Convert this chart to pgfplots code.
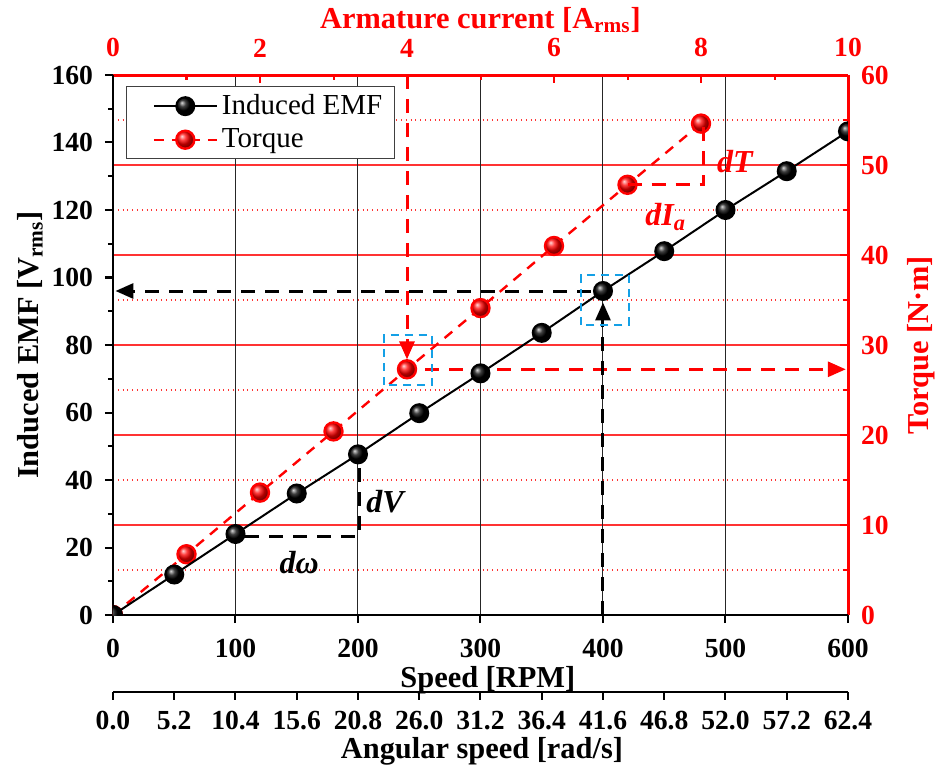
\documentclass[border=0pt]{standalone}
\usepackage{pgfplots}
\usepackage{pgfplotstable}
\pgfplotsset{compat=1.18}
\usepackage{fontspec}
\setmainfont{Liberation Serif}
\usetikzlibrary{arrows.meta}

\definecolor{boxblue}{RGB}{20,160,230}

\newcommand{\tickfont}{\fontsize{13.8}{16}\selectfont\bfseries}
\newcommand{\labfont}{\fontsize{15.2}{18}\selectfont\bfseries}
\newcommand{\notefont}{\fontsize{16}{18}\selectfont\bfseries\itshape}

% Induced EMF versus speed
\pgfplotstableread{
rpm emf
0   0
50  12
100 24
150 36
200 47.6
250 59.8
300 71.6
350 83.6
400 96
450 107.8
500 120
550 131.5
600 143.3
}\emfdata

% Torque versus armature current
\pgfplotstableread{
ia torque
0 0
1 6.75
2 13.6
3 20.4
4 27.3
5 34.1
6 41.0
7 47.8
8 54.6
}\torquedata

\tikzset{
  annot/.style={line width=1.5pt, dash pattern=on 7pt off 5pt},
  tip/.style={-{Triangle[length=9pt,width=7.5pt]}},
  selbox/.style={boxblue, line width=1pt, dash pattern=on 4pt off 3pt},
}

\begin{document}
\begin{tikzpicture}
\pgfplotsset{
  common/.style={
    scale only axis, width=367.5pt, height=270pt,
    set layers,
    clip marker paths=true,
    /pgf/number format/assume math mode=true,
    ticklabel style={font=\tickfont},
    label style={font=\labfont, inner sep=0pt},
    major tick length=4pt, minor tick length=2.5pt,
  },
}
% ---- torque axis (top: armature current, right: torque)
\begin{axis}[common,
  xmin=0, xmax=10, ymin=0, ymax=60,
  axis x line*=top, axis y line*=right,
  axis line style={red, line width=1.5pt},
  tick align=inside,
  every tick/.style={red, line width=1pt},
  xtick={0,2,...,10}, minor xtick={1,3,...,9},
  ytick={0,10,...,60}, minor ytick={5,15,...,55},
  ymajorgrids, yminorgrids,
  major grid style={red!80, line width=0.6pt},
  minor grid style={red!80, dotted, line width=0.6pt},
  ticklabel style={red},
  xticklabel style={inner ysep=1pt, yshift=7.8pt},
  yticklabel style={xshift=3pt},
  xlabel={Armature current [A\textsubscript{rms}]},
  ylabel={Torque [N·m]},
  label style={red},
  xlabel style={at={(axis description cs:0.5,1.102)}, anchor=center},
  ylabel style={at={(axis description cs:1.1,0.5)}, anchor=center},
]
\addplot[red, line width=1.2pt, dash pattern=on 5pt off 4pt,
  mark=ball, mark size=4.5pt, mark options={solid, ball color=red}]
  table[x=ia, y=torque] {\torquedata};

% current 4 A -> torque
\draw[red, annot, tip] (axis cs:4,60) -- (axis cs:4,28.4);
\draw[red, annot, tip] (axis cs:4.25,27.3) -- (axis cs:9.97,27.3);
\draw[selbox] (axis cs:3.69,25.6) rectangle (axis cs:4.34,31.1);

% slope triangle dT / dIa
\draw[red, annot] (axis cs:7,47.8) -- (axis cs:8.03,47.8) -- (axis cs:8.03,54.6);
\node[red, font=\notefont] at (axis cs:8.46,50.4) {dT};
\node[red, font=\notefont] at (axis cs:7.52,44.2) {dI\textsubscript{a}};
\end{axis}

% ---- EMF axis (bottom: speed, left: induced EMF)
\begin{axis}[common,
  xmin=0, xmax=600, ymin=0, ymax=160,
  axis x line*=bottom, axis y line*=left,
  axis line style={black, line width=1pt},
  tick align=outside,
  every tick/.style={black, line width=1pt},
  xtick={0,100,...,600},
  ytick={0,20,...,160}, minor ytick={10,30,...,150},
  xticklabel style={inner ysep=1pt, yshift=-7pt},
  yticklabel style={xshift=-2.5pt},
  xmajorgrids,
  major grid style={black!85, line width=0.5pt},
  xlabel={Speed [RPM]},
  ylabel={Induced EMF [V\textsubscript{rms}]},
  xlabel style={at={(axis description cs:0.51,-0.121)}, anchor=center},
  ylabel style={at={(axis description cs:-0.113,0.5)}, anchor=center},
  legend style={at={(axis description cs:0,1)}, anchor=north west,
    xshift=6.5pt, yshift=-5.5pt, draw=black!75, line width=0.6pt,
    font=\fontsize{14.5}{17}\selectfont, row sep=1.5pt,
    inner xsep=4pt, inner ysep=2pt, cells={anchor=west}},
  legend image code/.code={%
    \path (-9pt,0pt);
    \draw[mark repeat=2, mark phase=2, #1]
      plot coordinates {(0pt,0pt) (15.75pt,0pt) (31.5pt,0pt)};},
]
\addplot[black, line width=1pt,
  mark=ball, mark size=4.5pt, mark options={solid, ball color=black}]
  table[x=rpm, y=emf] {\emfdata};
\addlegendentry{Induced EMF}
\addlegendimage{red, line width=1.2pt, dash pattern=on 5pt off 4pt,
  mark=ball, mark size=4.5pt, mark options={solid, ball color=red}}
\addlegendentry{Torque}

% 400 RPM -> EMF
\draw[black, annot, tip] (axis cs:390,96) -- (axis cs:2,96);
\draw[black, annot, tip] (axis cs:400,0) -- (axis cs:400,92.6);
\draw[selbox] (axis cs:382,85.9) rectangle (axis cs:421,100.7);

% slope triangle dV / d omega
\draw[black, annot] (axis cs:108,23.4) -- (axis cs:201,23.4) -- (axis cs:201,44);
\node[black, font=\notefont] at (axis cs:222,33.5) {dV};
\node[black, font=\notefont] at (axis cs:152,15.4) {dω};
\end{axis}

% ---- angular speed scale under the speed axis
\begin{axis}[
  at={(0,-38.5pt)}, anchor=south west,
  scale only axis, width=367.5pt, height=1pt,
  set layers,
  xmin=0, xmax=600, ymin=0, ymax=1,
  axis x line*=bottom, hide y axis,
  axis line style={black, line width=1pt},
  tick align=outside, major tick length=4pt,
  every tick/.style={black, line width=1pt},
  xtick={0,50,...,600},
  xticklabels={0.0,5.2,10.4,15.6,20.8,26.0,31.2,36.4,41.6,46.8,52.0,57.2,62.4},
  ticklabel style={font=\tickfont},
  xticklabel style={inner ysep=1pt, yshift=-4.5pt},
  label style={font=\labfont, inner sep=0pt},
  xlabel={Angular speed [rad/s]},
  xlabel style={at={(axis description cs:0.502,0)}, anchor=center, yshift=-29.5pt},
]
\end{axis}

\pgfresetboundingbox
\path[use as bounding box] (-56.5pt,-76pt) rectangle (412.5pt,307.5pt);
\end{tikzpicture}
\end{document}
